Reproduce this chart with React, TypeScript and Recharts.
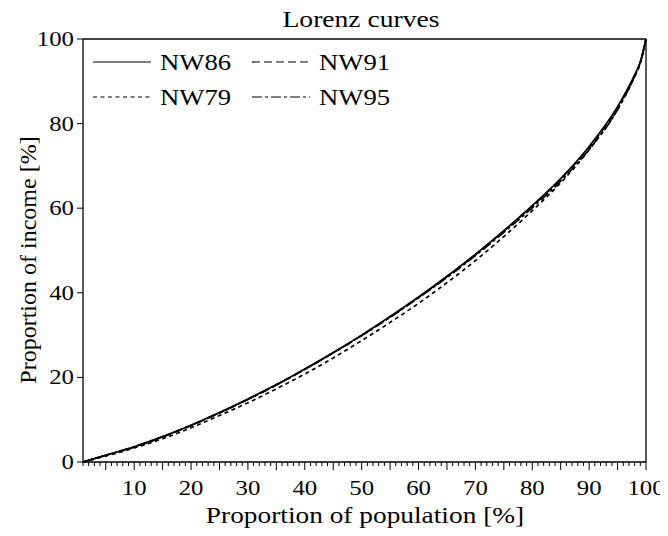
import React from 'react';
import { LineChart, Line, XAxis, YAxis, ReferenceLine } from 'recharts';

// population share (x) and income share of each survey (y), in percent
const popShare = [1, 5, 10, 15, 20, 25, 30, 35, 40, 45, 50, 55, 60, 65, 70, 75, 80, 85, 90, 95, 98, 99, 100];
const nw86 = [0, 1.6, 3.6, 6.0, 8.7, 11.7, 14.9, 18.3, 22.0, 25.9, 30.0, 34.4, 39.0, 43.9, 49.1, 54.7, 60.6, 67.0, 74.6, 84.0, 91.5, 94.6, 100];
const nw91 = [0, 1.6, 3.5, 5.9, 8.6, 11.6, 14.8, 18.2, 21.9, 25.8, 29.9, 34.3, 38.9, 43.8, 49.0, 54.6, 60.5, 66.9, 74.4, 83.8, 91.3, 94.5, 100];
const nw79 = [0, 1.4, 3.3, 5.5, 8.1, 11.0, 14.0, 17.3, 20.8, 24.6, 28.7, 33.0, 37.5, 42.4, 47.6, 53.3, 59.4, 66.0, 73.8, 83.4, 91.1, 94.3, 100];
const nw95 = [0, 1.6, 3.6, 6.0, 8.7, 11.6, 14.8, 18.2, 21.9, 25.8, 29.9, 34.2, 38.8, 43.6, 48.8, 54.3, 60.1, 66.4, 73.9, 83.3, 91.2, 94.4, 100];

const seriesNames = ['NW86', 'NW91', 'NW79', 'NW95'];
const seriesDash = ['', '8 4', '4 3.5', '10 3 3 3'];

const xTicks = Array.from({ length: 100 }, (_, i) => i + 1);
const yTicks = [0, 20, 40, 60, 80, 100];

const data = popShare.map((p, i) => ({
  x: p,
  NW86: nw86[i],
  NW91: nw91[i],
  NW79: nw79[i],
  NW95: nw95[i],
}));

const FONT = 'Liberation Serif';

// the source text is wider than it is tall, so stretch it sideways a bit
const SText = ({ x, y, size, sx = 1, anchor = 'middle', children }: any) => (
  <text
    transform={`translate(${x},${y}) scale(${sx},1)`}
    textAnchor={anchor}
    style={{ fontFamily: FONT, fontSize: size }}
    fill="#000"
  >
    {children}
  </text>
);

const XTick = ({ x, y, payload }: any) => {
  const v = payload.value;
  const len = v % 5 === 0 ? 8 : 4;
  return (
    <g>
      <line x1={x} x2={x} y1={y} y2={y + len} stroke="#000" strokeWidth={1} />
      {v % 10 === 0 && (
        <SText x={x} y={y + 33} size={20} sx={1.24}>
          {v}
        </SText>
      )}
    </g>
  );
};

const YTick = ({ x, y, payload }: any) => (
  <g>
    <line x1={x - 6} x2={x} y1={y} y2={y} stroke="#000" strokeWidth={1} />
    <SText x={x - 9} y={y + 7} size={20} sx={1.24} anchor="end">
      {payload.value}
    </SText>
  </g>
);

const legendPos = [
  { lx: 93, ty: 70 },
  { lx: 252, ty: 70 },
  { lx: 93, ty: 105 },
  { lx: 252, ty: 105 },
];

export default function App() {
  return (
    <div style={{ margin: -8, width: 668, height: 536, background: '#fff' }}>
      <LineChart
        width={668}
        height={536}
        data={data}
        margin={{ top: 39, right: 22, bottom: 44, left: 23 }}
      >
        <XAxis
          dataKey="x"
          type="number"
          domain={[1, 100]}
          ticks={xTicks}
          interval={0}
          tickSize={0}
          tickMargin={0}
          tickLine={false}
          tick={<XTick />}
          axisLine={{ stroke: '#000', strokeWidth: 1.3 }}
          height={30}
        />
        <YAxis
          type="number"
          domain={[0, 100]}
          ticks={yTicks}
          interval={0}
          tickSize={0}
          tickMargin={0}
          tickLine={false}
          tick={<YTick />}
          axisLine={{ stroke: '#000', strokeWidth: 1.3 }}
          width={60}
        />
        <ReferenceLine y={100} stroke="#000" strokeWidth={1.3} />
        <ReferenceLine x={100} stroke="#000" strokeWidth={1.3} />
        {seriesNames.map((name, i) => (
          <Line
            key={name}
            type="monotone"
            dataKey={name}
            stroke="#000"
            strokeWidth={1.7}
            strokeDasharray={seriesDash[i] || undefined}
            dot={false}
            isAnimationActive={false}
          />
        ))}
        <g>
          <SText x={361} y={27} size={23} sx={1.2}>
            Lorenz curves
          </SText>
          <SText x={365} y={523} size={23} sx={1.19}>
            Proportion of population [%]
          </SText>
          <text
            transform="translate(36,260) rotate(-90)"
            textAnchor="middle"
            style={{ fontFamily: FONT, fontSize: 24 }}
            fill="#000"
          >
            Proportion of income [%]
          </text>
          {seriesNames.map((name, i) => {
            const p = legendPos[i];
            return (
              <g key={name}>
                <line
                  x1={p.lx}
                  x2={p.lx + 58}
                  y1={p.ty - 8}
                  y2={p.ty - 8}
                  stroke="#000"
                  strokeWidth={1.2}
                  strokeDasharray={seriesDash[i] || undefined}
                />
                <SText x={p.lx + 67} y={p.ty} size={23} sx={1.16} anchor="start">
                  {name}
                </SText>
              </g>
            );
          })}
        </g>
      </LineChart>
    </div>
  );
}
